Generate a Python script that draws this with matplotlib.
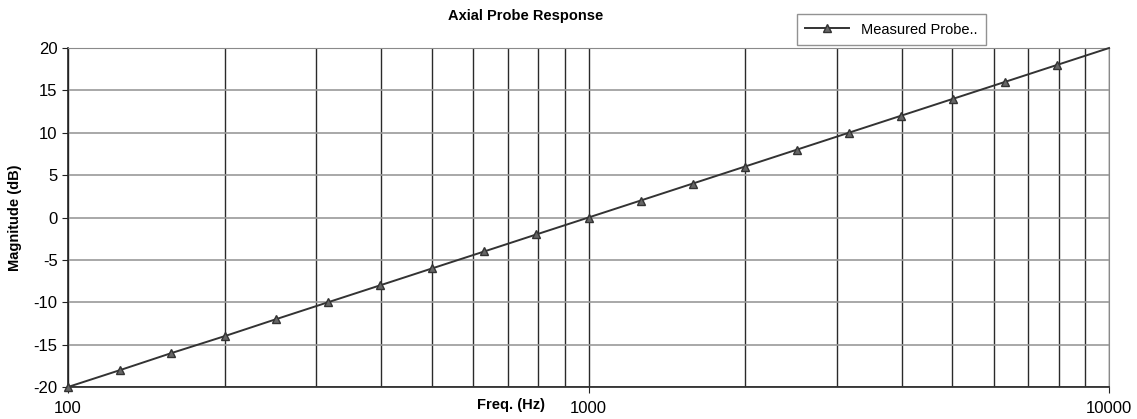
import matplotlib
matplotlib.use("Agg")
import matplotlib.pyplot as plt
from matplotlib.ticker import LogLocator, NullFormatter, FixedLocator

plt.rcParams["font.family"] = ["Liberation Sans", "DejaVu Sans"]
plt.rcParams["axes.unicode_minus"] = False

freq_hz = [100, 126, 158, 200, 251, 316, 398, 501, 631, 794, 1000,
           1259, 1585, 1995, 2512, 3162, 3981, 5012, 6310, 7943, 10000]
magnitude_db = [-20, -18, -16, -14, -12, -10, -8, -6, -4, -2, 0,
                2, 4, 6, 8, 10, 12, 14, 16, 18, 20]

x_ticks = [100, 1000, 10000]
y_ticks = [-20, -15, -10, -5, 0, 5, 10, 15, 20]

fig = plt.figure(figsize=(11.37, 4.19), dpi=100)
ax = fig.add_axes([0.0598, 0.0764, 0.9156, 0.809])

# last point has no visible marker in the original
ax.plot(freq_hz, magnitude_db, color="#333333", linewidth=1.4,
        marker="^", markersize=5.5, markerfacecolor="#666666",
        markeredgecolor="#333333", markevery=slice(0, -1),
        label="Measured Probe..", clip_on=False, zorder=3)

ax.set_xscale("log")
ax.set_xlim(100, 10000)
ax.set_ylim(-20, 20)

ax.xaxis.set_major_locator(FixedLocator(x_ticks))
ax.set_xticklabels([str(t) for t in x_ticks])
ax.xaxis.set_minor_locator(LogLocator(base=10, subs=range(2, 10)))
ax.xaxis.set_minor_formatter(NullFormatter())
ax.set_yticks(y_ticks)

ax.grid(True, axis="x", which="both", color="#2a2a2a", linewidth=1.0)
ax.grid(True, axis="y", which="major", color="#9a9a9a", linewidth=1.2)
ax.set_axisbelow(True)

for side in ["top", "right"]:
    ax.spines[side].set_color("#8a8a8a")
for side in ["left", "bottom"]:
    ax.spines[side].set_color("#222222")
    ax.spines[side].set_linewidth(1.2)

ax.tick_params(axis="both", which="both", length=4, labelsize=12, color="#222222")
ax.tick_params(axis="x", which="minor", length=0)
ax.tick_params(axis="x", pad=6)

ax.set_ylabel("Magnitude (dB)", fontsize=10.5, fontweight="bold", labelpad=8)
fig.text(0.449, 0.033, "Freq. (Hz)", fontsize=10.5, fontweight="bold",
         ha="center", va="center")
fig.text(0.462, 0.963, "Axial Probe Response", fontsize=10.5, fontweight="bold",
         ha="center", va="center")

leg = ax.legend(loc="lower left", bbox_to_anchor=(0.7, 1.008), fontsize=10.5,
                frameon=True, fancybox=False, borderpad=0.6, handlelength=3.0,
                borderaxespad=0)
leg.get_frame().set_edgecolor("#777777")
leg.get_frame().set_linewidth(1.0)

fig.savefig("out.png", dpi=100)
